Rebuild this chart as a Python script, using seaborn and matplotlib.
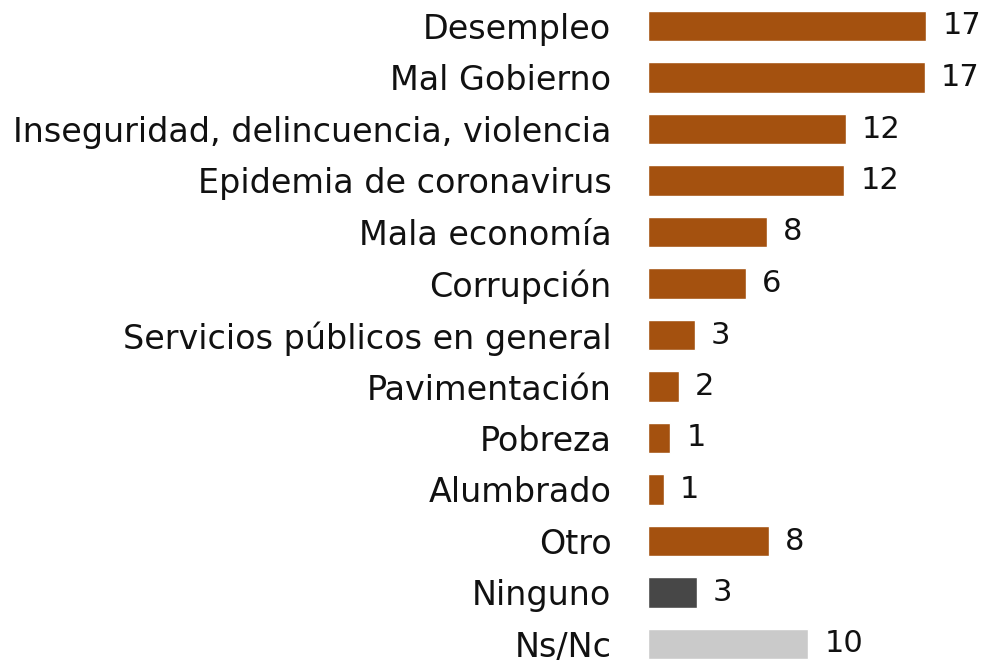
import matplotlib
matplotlib.use('Agg')
import matplotlib.pyplot as plt
import seaborn as sns
import pandas as pd

# Data (bar lengths, labels as printed)
categories = ['Desempleo', 'Mal Gobierno', 'Inseguridad, delincuencia, violencia',
              'Epidemia de coronavirus', 'Mala economía', 'Corrupción',
              'Servicios públicos en general', 'Pavimentación', 'Pobreza',
              'Alumbrado', 'Otro', 'Ninguno', 'Ns/Nc']
values = [17.0, 16.9, 12.1, 12.0, 7.3, 6.0, 2.9, 1.9, 1.4, 1.0, 7.4, 3.0, 9.8]
value_labels = ['17', '17', '12', '12', '8', '6', '3', '2', '1', '1', '8', '3', '10']

brown = '#A4510F'
colors = [brown] * 11 + ['#474747', '#CACACA']

df = pd.DataFrame({'categoria': categories, 'valor': values})

sns.set_theme(style='white')
plt.rcParams['font.family'] = ['DejaVu Sans']

W, H = 982, 663
fig = plt.figure(figsize=(W / 100, H / 100), dpi=100)

# axes placed in pixels: bars start at x=648, 16.4 px per unit, rows ~51.5 px apart
x0, ppu, x_max = 647.5, 16.4, 20
row, y_first = 51.5, 26
ax_top = y_first - row / 2
ax_h = row * len(categories)
ax = fig.add_axes([x0 / W, (H - ax_top - ax_h) / H, ppu * x_max / W, ax_h / H])

sns.barplot(data=df, x='valor', y='categoria', hue='categoria', palette=colors,
            legend=False, width=0.6, ax=ax, saturation=1)

ax.set_xlim(0, x_max)
ax.set_ylim(len(categories) - 0.5, -0.5)
ax.set_xlabel('')
ax.set_ylabel('')
ax.set_xticks([])
ax.tick_params(axis='y', length=0, pad=26, labelsize=24, labelcolor='#111111')
sns.despine(ax=ax, left=True, bottom=True)

for i, (v, lab) in enumerate(zip(values, value_labels)):
    ax.annotate(lab, xy=(v, i), xytext=(11.5, 0), textcoords='offset points',
                ha='left', va='center', fontsize=22, color='#111111')

fig.savefig('out.png', dpi=100)
